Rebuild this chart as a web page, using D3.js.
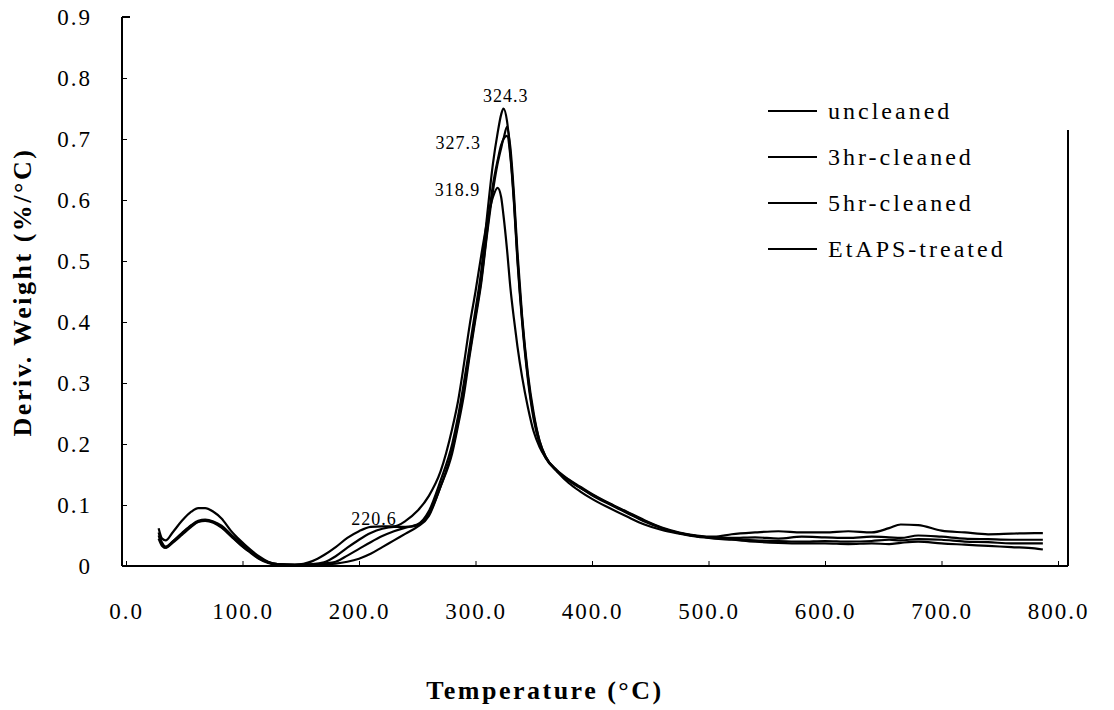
<!DOCTYPE html>
<html>
<head>
<meta charset="utf-8">
<script src="https://cdn.jsdelivr.net/npm/d3@7"></script>
<style>
  html, body { margin: 0; padding: 0; background: #fff; }
  svg { display: block; }
  text { font-family: "Liberation Serif", "DejaVu Serif", serif; fill: #000; }
</style>
</head>
<body>
<svg id="chart" width="1114" height="710"></svg>
<script>
// ---------- data ----------
const temps = [28, 31, 34, 40, 48, 56, 62, 68, 75, 82, 90, 98, 106, 114, 122, 130, 145, 160, 170, 180, 190, 200, 210, 220, 230, 240, 250, 260, 270, 280, 285, 290, 295, 300, 305, 310, 315, 319, 322, 324, 327, 330, 333, 336, 340, 345, 350, 355, 360, 370, 380, 390, 400, 415, 430, 445, 460, 475, 490, 505, 520, 540, 560, 580, 600, 620, 640, 655, 665, 680, 700, 720, 740, 760, 780, 787];

const uncleaned = [0.062, 0.045, 0.042, 0.055, 0.074, 0.089, 0.095, 0.095, 0.089, 0.078, 0.058, 0.042, 0.028, 0.016, 0.007, 0.003, 0.002, 0.003, 0.006, 0.016, 0.030, 0.043, 0.054, 0.061, 0.064, 0.064, 0.068, 0.090, 0.140, 0.200, 0.245, 0.300, 0.360, 0.420, 0.485, 0.575, 0.660, 0.710, 0.740, 0.750, 0.730, 0.675, 0.600, 0.505, 0.405, 0.310, 0.245, 0.205, 0.180, 0.157, 0.142, 0.130, 0.118, 0.103, 0.089, 0.075, 0.063, 0.055, 0.050, 0.048, 0.052, 0.055, 0.057, 0.055, 0.055, 0.057, 0.055, 0.062, 0.068, 0.067, 0.058, 0.055, 0.052, 0.053, 0.054, 0.054];

const hr3 = [0.055, 0.038, 0.032, 0.040, 0.053, 0.066, 0.073, 0.075, 0.072, 0.064, 0.050, 0.036, 0.024, 0.013, 0.006, 0.003, 0.002, 0.002, 0.004, 0.007, 0.017, 0.028, 0.039, 0.049, 0.057, 0.063, 0.067, 0.085, 0.130, 0.190, 0.235, 0.290, 0.350, 0.410, 0.470, 0.550, 0.625, 0.665, 0.690, 0.700, 0.720, 0.685, 0.610, 0.515, 0.410, 0.315, 0.250, 0.205, 0.180, 0.156, 0.140, 0.128, 0.116, 0.101, 0.087, 0.073, 0.062, 0.054, 0.049, 0.046, 0.046, 0.047, 0.045, 0.048, 0.047, 0.046, 0.048, 0.047, 0.046, 0.050, 0.048, 0.045, 0.044, 0.043, 0.043, 0.043];

const hr5 = [0.050, 0.035, 0.030, 0.038, 0.051, 0.064, 0.072, 0.074, 0.071, 0.063, 0.049, 0.035, 0.023, 0.012, 0.005, 0.002, 0.002, 0.002, 0.003, 0.004, 0.007, 0.012, 0.020, 0.031, 0.042, 0.053, 0.064, 0.082, 0.130, 0.185, 0.230, 0.280, 0.345, 0.405, 0.465, 0.545, 0.615, 0.660, 0.685, 0.700, 0.705, 0.670, 0.595, 0.500, 0.400, 0.305, 0.240, 0.200, 0.178, 0.155, 0.141, 0.128, 0.117, 0.102, 0.088, 0.074, 0.062, 0.054, 0.049, 0.046, 0.044, 0.042, 0.041, 0.040, 0.041, 0.040, 0.041, 0.043, 0.042, 0.044, 0.043, 0.040, 0.039, 0.037, 0.037, 0.037];

const etaps = [0.045, 0.033, 0.030, 0.040, 0.054, 0.067, 0.074, 0.076, 0.073, 0.066, 0.052, 0.038, 0.025, 0.014, 0.006, 0.003, 0.002, 0.008, 0.018, 0.031, 0.046, 0.057, 0.064, 0.065, 0.065, 0.074, 0.090, 0.115, 0.155, 0.225, 0.270, 0.330, 0.395, 0.450, 0.510, 0.565, 0.605, 0.620, 0.605, 0.575, 0.520, 0.455, 0.405, 0.360, 0.310, 0.260, 0.220, 0.195, 0.178, 0.155, 0.136, 0.122, 0.110, 0.095, 0.081, 0.068, 0.059, 0.053, 0.048, 0.045, 0.043, 0.040, 0.038, 0.037, 0.037, 0.036, 0.037, 0.036, 0.038, 0.040, 0.037, 0.035, 0.033, 0.031, 0.029, 0.027];

const seriesNames = ["uncleaned", "3hr-cleaned", "5hr-cleaned", "EtAPS-treated"];
const seriesValues = [uncleaned, hr3, hr5, etaps];

const xTicks = [0, 100, 200, 300, 400, 500, 600, 700, 800];
const yTicks = [0, 0.1, 0.2, 0.3, 0.4, 0.5, 0.6, 0.7, 0.8, 0.9];

const peakLabels = [
  { t: 324.3, v: 0.75, text: "324.3", dx: 2, dy: -7, color: "#000" },
  { t: 327.3, v: 0.72, text: "327.3", dx: -49, dy: 22, color: "#555" },
  { t: 318.9, v: 0.62, text: "318.9", dx: -40, dy: 8, color: "#000" },
  { t: 220.6, v: 0.065, text: "220.6", dx: -9, dy: -1, color: "#000" }
];

// ---------- layout ----------
const svg = d3.select("#chart");
const pLeft = 122, pRight = 1068, pTop = 17, pBottom = 566;

const x = d3.scaleLinear().domain([0, 800]).range([126, 1058]);
const y = d3.scaleLinear().domain([0, 0.9]).range([pBottom, pTop]);

// frame
const frame = svg.append("g").attr("stroke", "#000").attr("stroke-width", 2).attr("fill", "none");
frame.append("line").attr("x1", pLeft).attr("x2", pLeft).attr("y1", pTop).attr("y2", pBottom);
frame.append("line").attr("x1", pLeft).attr("x2", pRight).attr("y1", pBottom).attr("y2", pBottom);
frame.append("line").attr("x1", pRight).attr("x2", pRight).attr("y1", 130).attr("y2", pBottom);
frame.append("line").attr("x1", pLeft).attr("x2", pLeft + 8).attr("y1", pTop).attr("y2", pTop);

// x axis
const xAxis = svg.append("g")
  .attr("transform", `translate(0,${pBottom})`)
  .call(d3.axisBottom(x).tickValues(xTicks).tickFormat(d3.format(".1f")).tickSizeInner(-5).tickSizeOuter(0).tickPadding(37));
xAxis.select(".domain").remove();
xAxis.selectAll("line").attr("stroke", "#000").attr("stroke-width", 1);
xAxis.selectAll("text").style("font-size", "23px").style("letter-spacing", "2px")
  .style("font-family", "'Liberation Serif', serif").attr("fill", "#000");

// y axis
const yAxis = svg.append("g")
  .attr("transform", `translate(${pLeft},0)`)
  .call(d3.axisLeft(y).tickValues(yTicks).tickFormat(d => d === 0 ? "0" : d3.format(".1f")(d)).tickSizeInner(-5).tickSizeOuter(0).tickPadding(30));
yAxis.select(".domain").remove();
yAxis.selectAll("line").attr("stroke", "#000").attr("stroke-width", 1);
yAxis.selectAll("text").style("font-size", "23px").style("letter-spacing", "2px")
  .style("font-family", "'Liberation Serif', serif").attr("fill", "#000");

// axis titles
svg.append("text")
  .attr("x", 545).attr("y", 699)
  .attr("text-anchor", "middle")
  .style("font-size", "26px").style("font-weight", "bold").style("letter-spacing", "2.5px")
  .text("Temperature (°C)");

svg.append("text")
  .attr("transform", "translate(31,292) rotate(-90)")
  .attr("text-anchor", "middle")
  .style("font-size", "26px").style("font-weight", "bold").style("letter-spacing", "2.5px")
  .text("Deriv. Weight (%/°C)");

// lines
const line = d3.line()
  .x(d => x(d[0]))
  .y(d => y(d[1]))
  .curve(d3.curveMonotoneX);

seriesValues.forEach((vals) => {
  svg.append("path")
    .datum(temps.map((t, i) => [t, vals[i]]))
    .attr("fill", "none")
    .attr("stroke", "#000")
    .attr("stroke-width", 2.2)
    .attr("stroke-linejoin", "round")
    .attr("d", line);
});

// peak labels
peakLabels.forEach(p => {
  svg.append("text")
    .attr("x", x(p.t) + p.dx)
    .attr("y", y(p.v) + p.dy)
    .attr("text-anchor", "middle")
    .style("font-size", "18px").style("letter-spacing", "1px")
    .attr("fill", p.color)
    .text(p.text);
});

// legend
const legend = svg.append("g");
const legendY0 = 111, legendStep = 46;
seriesNames.forEach((name, i) => {
  const ly = legendY0 + i * legendStep;
  legend.append("line")
    .attr("x1", 768).attr("x2", 817).attr("y1", ly).attr("y2", ly)
    .attr("stroke", "#000").attr("stroke-width", 2);
  legend.append("text")
    .attr("x", 828).attr("y", ly + 8)
    .style("font-size", "24px").style("letter-spacing", "3px")
    .text(name);
});
</script>
</body>
</html>
